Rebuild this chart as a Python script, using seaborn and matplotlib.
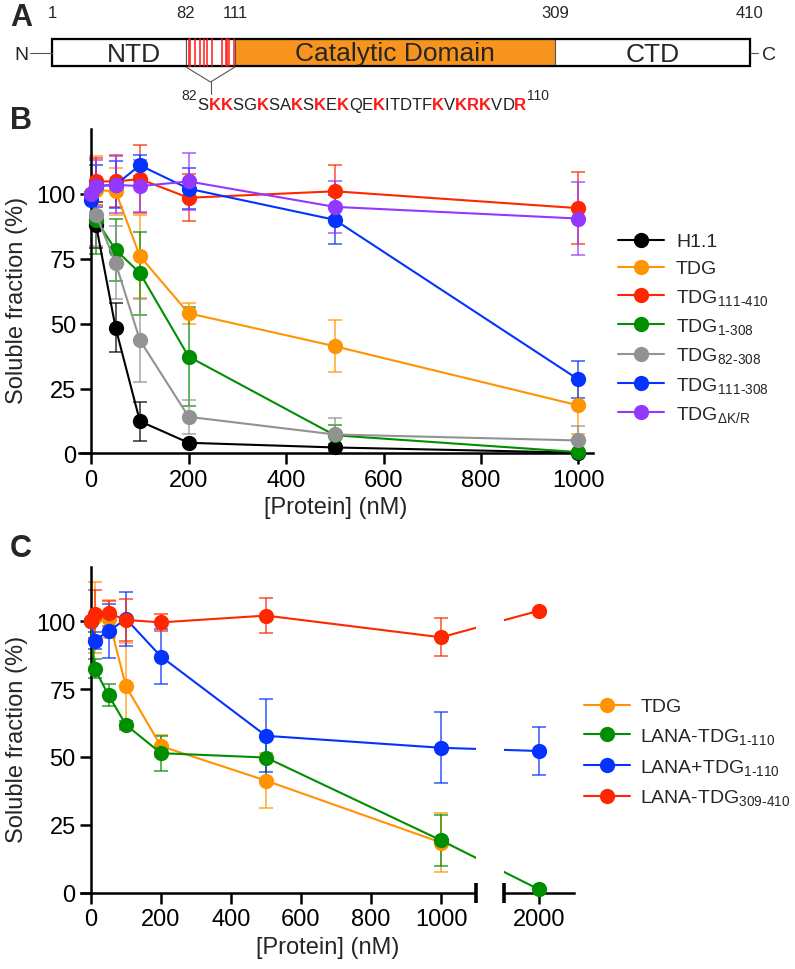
import numpy as np
import pandas as pd
import matplotlib
matplotlib.use("Agg")
import matplotlib.pyplot as plt
import seaborn as sns
from matplotlib import font_manager
from matplotlib.patches import Rectangle

# ---- Panel B data: solubility vs protein concentration ----
conc_b = [0, 10, 50, 100, 200, 500, 1000]
h11 = [100, 88, 48.5, 12.4, 4.1, 2.3, 0.3]
h11_err = [0, 9, 9.5, 7.5, 1.0, 1.2, 0.5]
tdg = [100, 101.5, 101, 76, 54, 41.3, 18.5]
tdg_err = [0, 13, 9, 16, 4, 10, 11]
tdg_111_410 = [100, 104.8, 104.8, 105.7, 98.5, 101, 94.5]
tdg_111_410_err = [0, 9, 10, 13, 9, 10, 14]
tdg_1_308 = [100, 90, 78.5, 69.5, 37.3, 7, 0.5]
tdg_1_308_err = [0, 13, 12, 16, 19, 4, 0.5]
tdg_82_308 = [100, 92, 73.5, 43.6, 14.1, 7.3, 5]
tdg_82_308_err = [0, 12, 14, 16, 6.5, 6.5, 5.5]
tdg_111_308 = [97.5, 103, 103.5, 111, 102, 90, 28.5]
tdg_111_308_err = [0, 8, 9, 4, 8, 9.5, 7]
tdg_dkr = [100, 103, 103.5, 103, 104.8, 95, 90.5]
tdg_dkr_err = [0, 10, 11, 10, 11, 10, 14]

# ---- Panel C data ----
conc_c = [0, 10, 50, 100, 200, 500, 1000, 2000]
c_tdg = [100, 101.5, 101, 76, 54, 41.3, 18.5, np.nan]
c_tdg_err = [0, 13, 7, 16, 4, 10, 11, 0]
lana_tdg_1_110 = [100, 82.6, 72.8, 61.8, 51.4, 49.8, 19.3, 1.2]
lana_tdg_1_110_err = [0, 3.5, 4, 1.5, 6.5, 8, 9.5, 0]
lana_plus_tdg_1_110 = [100, 92.9, 96.3, 100.9, 87, 57.8, 53.4, 52.2]
lana_plus_tdg_1_110_err = [0, 3, 10, 10, 10, 13.5, 13, 9]
lana_tdg_309_410 = [100, 102.7, 103, 100.5, 99.6, 102.1, 94.1, 103.9]
lana_tdg_309_410_err = [0, 9, 4.6, 7.7, 3.2, 6.3, 7, 0]

# ---- Panel A: TDG domain map ----
domain_names = ["NTD", "", "Catalytic Domain", "CTD"]
domain_res = [1, 82, 111, 309, 410]
seq_start = 82
sequence = "SKKSGKSAKSKEKQEKITDTFKVKRKVDR"

sns.set_theme(style="white")
names = [f.name for f in font_manager.fontManager.ttflist]
narrow = "Liberation Sans Narrow" if "Liberation Sans Narrow" in names else "Liberation Sans"
plt.rcParams["font.family"] = ["Liberation Sans", "DejaVu Sans"]
plt.rcParams["mathtext.fontset"] = "custom"
plt.rcParams["mathtext.rm"] = "Liberation Sans"
plt.rcParams["mathtext.it"] = "Liberation Sans:italic"
plt.rcParams["mathtext.bf"] = "Liberation Sans:bold"

W, H = 795, 970
fig = plt.figure(figsize=(W / 100, H / 100), dpi=100)

colors = {"black": "#000000", "orange": "#FF9300", "red": "#FF2600",
          "green": "#008F00", "gray": "#929292", "blue": "#0433FF",
          "purple": "#9437FF"}


def px_axes(x0, x1, y0, y1):
    return fig.add_axes([x0 / W, 1 - y1 / H, (x1 - x0) / W, (y1 - y0) / H])


def draw_series(ax, x, y, err, color, label):
    df = pd.DataFrame({"x": x, "y": y, "err": err}).dropna()
    ax.errorbar(df["x"], df["y"], yerr=df["err"], fmt="none", ecolor=color,
                elinewidth=1.2, capsize=5, capthick=1.2, alpha=0.75, zorder=2)
    sns.lineplot(data=df, x="x", y="y", ax=ax, color=color, marker="o",
                 markersize=11, markeredgewidth=0, linewidth=1.5,
                 label=label, zorder=3)


def style_axes(ax, ytop):
    ax.set_ylim(-6, ytop)
    ax.spines["left"].set_position(("data", 0))
    ax.spines["bottom"].set_position(("data", 0))
    ax.spines["left"].set_bounds(0, ytop)
    for s in ["top", "right"]:
        ax.spines[s].set_visible(False)
    for s in ["left", "bottom"]:
        ax.spines[s].set_linewidth(1.8)
        ax.spines[s].set_color("black")
    ax.set_yticks([0, 25, 50, 75, 100])
    ax.tick_params(direction="out", length=8, width=1.8, labelsize=17,
                   left=True, bottom=True, colors="black", pad=3)
    ax.set_ylabel("Soluble fraction (%)", fontsize=17, labelpad=6)
    ax.set_xlabel("[Protein] (nM)", fontsize=17, labelpad=4)


# ---------------- Panel A ----------------
axa = px_axes(0, W, 0, 125)
axa.set_xlim(0, W)
axa.set_ylim(125, 0)
axa.axis("off")
edges_px = [52, 186, 235, 555, 750]
bar_top, bar_bot = 40, 67
fills = ["white", "white", "#F7941D", "white"]
for i in range(4):
    axa.add_patch(Rectangle((edges_px[i], bar_top), edges_px[i + 1] - edges_px[i],
                            bar_bot - bar_top, facecolor=fills[i],
                            edgecolor="#555555", linewidth=0.8))
    if domain_names[i]:
        axa.text((edges_px[i] + edges_px[i + 1]) / 2 + (15 if i == 0 else 0),
                 (bar_top + bar_bot) / 2 + 1, domain_names[i], family=narrow,
                 fontsize=19, ha="center", va="center")
axa.add_patch(Rectangle((edges_px[0], bar_top), edges_px[-1] - edges_px[0],
                        bar_bot - bar_top, facecolor="none", edgecolor="black",
                        linewidth=1.6))
for e, r in zip(edges_px, domain_res):
    axa.text(e, 14, str(r), family=narrow, fontsize=12, ha="center", va="center")
# basic residues between 82 and 110 as red stripes
seg_w = (edges_px[2] - edges_px[1]) / len(sequence)
for k, aa in enumerate(sequence):
    if aa in "KR":
        xs = edges_px[1] + (k + 0.5) * seg_w
        axa.plot([xs, xs], [bar_top, bar_bot], color="#FF1A1A", lw=1.1)
axa.plot([30, edges_px[0]], [54, 54], color="#555555", lw=0.8)
axa.plot([edges_px[-1], 758], [54, 54], color="#555555", lw=0.8)
axa.text(28, 55, "N", family=narrow, fontsize=14, ha="right", va="center")
axa.text(762, 55, "C", family=narrow, fontsize=14, ha="left", va="center")
mid = (edges_px[1] + edges_px[2]) / 2
axa.plot([edges_px[1], mid, edges_px[2]], [bar_bot + 1, 83, bar_bot + 1],
         color="#555555", lw=0.8)
axa.plot([mid, mid], [83, 95], color="#555555", lw=0.8)
fig.text(10 / W, 1 - 18 / H, "A", fontsize=22, fontweight="bold", va="center")

# sequence with coloured K/R
fig.canvas.draw()
renderer = fig.canvas.get_renderer()
xpos = 181
t = axa.text(xpos, 100, str(seq_start), fontsize=10, va="baseline", ha="left")
xpos += t.get_window_extent(renderer).width + 1
for aa in sequence:
    basic = aa in "KR"
    t = axa.text(xpos, 110, aa, fontsize=12, va="baseline", ha="left",
                 color="#FF1A1A" if basic else "#222222",
                 fontweight="bold" if basic else "normal")
    xpos += t.get_window_extent(renderer).width
axa.text(xpos + 1, 100, str(seq_start + len(sequence) - 1), fontsize=10,
         va="baseline", ha="left")

# ---------------- Panel B ----------------
axb = px_axes(79, 593, 130, 470)
series_b = [
    (h11, h11_err, "black", "H1.1"),
    (tdg, tdg_err, "orange", "TDG"),
    (tdg_111_410, tdg_111_410_err, "red", r"TDG$_{\text{111-410}}$"),
    (tdg_1_308, tdg_1_308_err, "green", r"TDG$_{\text{1-308}}$"),
    (tdg_82_308, tdg_82_308_err, "gray", r"TDG$_{\text{82-308}}$"),
    (tdg_111_308, tdg_111_308_err, "blue", r"TDG$_{\text{111-308}}$"),
    (tdg_dkr, tdg_dkr_err, "purple", r"TDG$_{\Delta\text{K/R}}$"),
]
for y, e, c, lab in series_b:
    draw_series(axb, conc_b, y, e, colors[c], lab)
axb.set_xlim(-25, 1030)
axb.set_xticks([0, 200, 400, 600, 800, 1000])
style_axes(axb, 125)
axb.legend(loc="upper left", bbox_to_anchor=((610 - 79) / 514, (470 - 226) / 340),
           frameon=False, fontsize=14, handlelength=2.4, labelspacing=0.48,
           handletextpad=0.6, borderaxespad=0)
fig.text(10 / W, 1 - 121 / H, "B", fontsize=22, fontweight="bold", va="center")


# ---------------- Panel C (broken x axis) ----------------
def fwd(x):
    x = np.asarray(x, dtype=float)
    return np.where(x <= 1100, x, np.where(x >= 1900, x - 720, 1100 + (x - 1100) * 0.1))


def inv(x):
    x = np.asarray(x, dtype=float)
    return np.where(x <= 1100, x, np.where(x >= 1180, x + 720, 1100 + (x - 1100) * 10))


axc = px_axes(80.5, 574, 568, 910)
axc.set_xscale("function", functions=(fwd, inv))
axc.set_xlim(-30, 2100)
series_c = [
    (c_tdg, c_tdg_err, "orange", "TDG"),
    (lana_tdg_1_110, lana_tdg_1_110_err, "green", r"LANA-TDG$_{\text{1-110}}$"),
    (lana_plus_tdg_1_110, lana_plus_tdg_1_110_err, "blue", r"LANA+TDG$_{\text{1-110}}$"),
    (lana_tdg_309_410, lana_tdg_309_410_err, "red", r"LANA-TDG$_{\text{309-410}}$"),
]
for y, e, c, lab in series_c:
    draw_series(axc, conc_c, y, e, colors[c], lab)
axc.set_xlim(-30, 2100)
axc.set_xticks([0, 200, 400, 600, 800, 1000, 2000])
axc.set_xticklabels(["0", "200", "400", "600", "800", "1000", "2000"])
style_axes(axc, 120)
axc.axvspan(1101, 1899, color="white", zorder=4, lw=0)
axc.plot([1100, 1900], [0, 0], ls="none", marker="|", markersize=14,
         markeredgewidth=2.6, color="black", zorder=6, clip_on=False)
axc.legend(loc="upper left", bbox_to_anchor=((576 - 80.5) / 493.5, (910 - 691) / 342),
           frameon=False, fontsize=14, handlelength=2.4, labelspacing=0.55,
           handletextpad=0.5, borderaxespad=0)
fig.text(10 / W, 1 - 549 / H, "C", fontsize=22, fontweight="bold", va="center")

fig.savefig("out.png", dpi=100)
